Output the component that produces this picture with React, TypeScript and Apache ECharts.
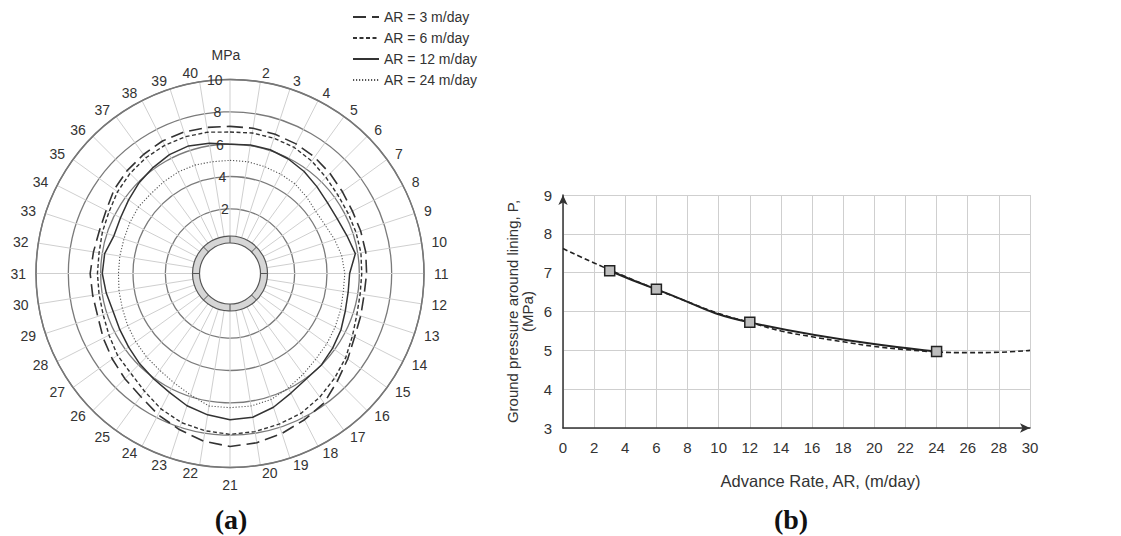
import React, { useEffect, useRef } from 'react';
import * as echarts from 'echarts';

// ---- Panel (a): polar plot data ----
const spokeLabels = ['1','2','3','4','5','6','7','8','9','10','11','12','13','14','15','16','17','18','19','20',
  '21','22','23','24','25','26','27','28','29','30','31','32','33','34','35','36','37','38','39','40'];
const radialTicks = ['2', '4', '6', '8', '10'];
const seriesNames = ['AR = 3 m/day', 'AR = 6 m/day', 'AR = 12 m/day', 'AR = 24 m/day'];

const ar3 = [7.1, 7.1, 7.05, 7.0, 6.9, 6.75, 6.6, 6.5, 6.5, 6.5, 6.45, 6.4, 6.5, 6.65, 7.0, 7.4, 7.9, 8.15, 8.4, 8.6,
  8.7, 8.5, 8.15, 7.8, 7.4, 7.2, 7.0, 6.8, 6.6, 6.6, 6.65, 6.55, 6.5, 6.6, 6.85, 7.0, 7.1, 7.2, 7.2, 7.15];
const ar6 = [6.75, 6.8, 6.8, 6.75, 6.6, 6.4, 6.25, 6.2, 6.2, 6.2, 6.15, 6.15, 6.25, 6.5, 6.85, 7.15, 7.45, 7.7, 7.8, 7.9,
  7.95, 7.85, 7.7, 7.4, 7.0, 6.7, 6.6, 6.4, 6.25, 6.2, 6.2, 6.2, 6.3, 6.4, 6.6, 6.75, 6.85, 6.9, 6.9, 6.85];
const ar12 = [6.0, 6.05, 6.05, 5.95, 5.8, 5.6, 5.45, 5.45, 5.6, 5.85, 5.4, 5.4, 5.5, 5.7, 5.85, 6.0, 6.05, 6.3, 6.7, 7.0,
  7.05, 6.85, 6.6, 6.25, 6.05, 5.9, 5.75, 5.65, 5.6, 5.75, 5.9, 5.85, 5.55, 5.6, 5.75, 5.95, 6.1, 6.25, 6.3, 6.15];
const ar24 = [5.0, 5.0, 4.95, 4.9, 4.85, 4.7, 4.55, 4.6, 4.8, 5.0, 5.1, 5.1, 5.2, 5.3, 5.4, 5.5, 5.7, 5.95, 6.2, 6.3,
  6.3, 6.3, 5.9, 5.6, 5.4, 5.3, 5.2, 5.1, 5.0, 4.95, 4.9, 4.9, 4.9, 4.95, 5.0, 4.95, 5.0, 5.05, 5.05, 5.0];

// ---- Panel (b): advance rate vs pressure ----
const rates = [3, 6, 12, 24];
const pressures = [7.05, 6.57, 5.72, 4.97];
const fitRates = [0, 2, 4, 6, 8, 10, 12, 14, 16, 18, 20, 22, 24, 26, 28, 30];
const fitPressures = [7.62, 7.25, 6.9, 6.57, 6.25, 5.95, 5.72, 5.5, 5.35, 5.22, 5.1, 5.02, 4.96, 4.94, 4.95, 5.0];

const FONT = '"Liberation Sans", Arial, sans-serif';
const SERIF = '"Liberation Serif", "Times New Roman", serif';
const CX = 230, CY = 273.5, R = 194;
const RING_IN = 30.5, RING_OUT = 37.5;
const LABEL_MARGIN = -14, DIGIT_W = 7.8, LABEL_H = 14;

function loop(vals: number[]) {
  const pts = vals.map((v, i) => [v, i]);
  pts.push([vals[0], 0]);
  return pts;
}

// Label placement: each spoke label sits with its box just outside the circle, as in the reference.
const labelRich: Record<string, any> = {};
const labelFormatted: Record<string, string> = {};
function spokeCategory(label: string, i: number) {
  if (label === '1') { labelFormatted[label] = ''; return { value: label }; }
  const th = (i * 360 / spokeLabels.length) * Math.PI / 180;
  const s = Math.sin(th), c = Math.cos(th);
  const a = R + LABEL_MARGIN;
  const ax = a * s, ay = -a * c;
  const w = label.length * DIGIT_W, h = LABEL_H;
  const alignH = Math.abs(ax) / R < 0.3 ? 'center' : (ax > 0 ? 'left' : 'right');
  const alignV = Math.abs(ay) / R < 0.3 ? 'middle' : (ay > 0 ? 'top' : 'bottom');
  const tx = Math.abs(s) < 0.01 ? 0 : 204 * s + Math.sign(s) * w / 2;
  const ty = label === '21' ? 211 : (c > 0 ? -202.5 * c : -201.7 * c);
  const cxOff = alignH === 'center' ? 0 : alignH === 'left' ? w / 2 : -w / 2;
  const cyOff = alignV === 'middle' ? 0 : alignV === 'top' ? h / 2 : -h / 2;
  const dx = tx - (ax + cxOff), dy = ty - (ay + cyOff);
  let pT = 0, pR = 0, pB = 0, pL = 0;
  if (alignH === 'center') { if (dx > 0) pL = 2 * dx; else pR = -2 * dx; }
  else if (alignH === 'left') pL = Math.max(0, dx);
  else pR = Math.max(0, -dx);
  labelFormatted[label] = label;
  if (alignV === 'middle') {
    if (Math.abs(dy) > 0.8) {
      const key = 'g' + label;
      labelRich[key] = { fontSize: 2, lineHeight: 2 * Math.abs(dy) };
      labelFormatted[label] = dy > 0 ? `{${key}| }\n${label}` : `${label}\n{${key}| }`;
    }
  } else if (alignV === 'top') pT = Math.max(0, dy);
  else pB = Math.max(0, -dy);
  return { value: label, textStyle: { padding: [pT, pR, pB, pL], rich: labelRich } };
}
const angleCategories = spokeLabels.map(spokeCategory);

export default function App() {
  const ref = useRef<HTMLDivElement>(null);
  useEffect(() => {
    if (!ref.current) return;
    const chart = echarts.init(ref.current, undefined, { renderer: 'svg' });
    const lineStyles = [
      { type: [13, 6], width: 1.6, color: '#333' },
      { type: [4, 2.5], width: 1.4, color: '#333' },
      { type: 'solid', width: 1.5, color: '#333' },
      { type: [1.2, 1.8], width: 1.1, color: '#555' },
    ];
    const polarData = [ar3, ar6, ar12, ar24];
    const dividers: any[] = [];
    for (let k = 0; k < 8; k++) {
      const a = (k * 45 * Math.PI) / 180;
      dividers.push({
        type: 'line', z: 101,
        shape: {
          x1: CX + RING_IN * Math.sin(a), y1: CY - RING_IN * Math.cos(a),
          x2: CX + RING_OUT * Math.sin(a), y2: CY - RING_OUT * Math.cos(a),
        },
        style: { stroke: '#555', lineWidth: 1 },
      });
    }
    chart.setOption({
      animation: false,
      backgroundColor: '#fff',
      textStyle: { fontFamily: FONT },
      legend: {
        orient: 'vertical', left: 347, top: 5,
        itemWidth: 26, itemHeight: 14, itemGap: 7,
        data: seriesNames,
        itemStyle: { color: 'rgba(0,0,0,0)', borderWidth: 0, opacity: 0 },
        textStyle: { fontSize: 14, color: '#333', fontFamily: FONT, lineHeight: 14 },
      },
      polar: { center: [CX, CY], radius: R },
      angleAxis: {
        type: 'category', data: angleCategories, startAngle: 94.5, clockwise: true, boundaryGap: true,
        axisLine: { show: true, lineStyle: { color: '#777', width: 1.5 } },
        axisTick: { show: false, alignWithLabel: true },
        axisLabel: {
          interval: 0, margin: LABEL_MARGIN, fontSize: 14, lineHeight: LABEL_H, color: '#333', fontFamily: FONT,
          formatter: (v: string) => labelFormatted[v] ?? v,
          rich: labelRich,
        },
        splitLine: { show: true, interval: 0, lineStyle: { color: '#cfcfcf', width: 1 } },
      },
      radiusAxis: {
        type: 'value', min: -2, max: 10, interval: 2,
        axisLine: { show: false }, axisTick: { show: false },
        axisLabel: {
          margin: 0, align: 'center', verticalAlign: 'middle', fontSize: 14, color: '#333', fontFamily: FONT,
          formatter: (v: number) => (radialTicks.indexOf(String(v)) >= 0 ? String(v) : ''),
        },
        splitLine: { show: true, lineStyle: { color: '#7a7a7a', width: 1.3 } },
      },
      grid: { left: 563, top: 195, width: 467, height: 233 },
      xAxis: {
        type: 'value', min: 0, max: 30, interval: 2,
        name: 'Advance Rate, AR, (m/day)', nameLocation: 'middle', nameGap: 44,
        nameTextStyle: { fontSize: 16.5, color: '#333', fontFamily: FONT, padding: [0, 0, 0, 48] },
        axisLine: { show: true, onZero: false, symbol: ['none', 'arrow'], symbolSize: [7, 10], lineStyle: { color: '#333', width: 1.5 } },
        axisTick: { show: false },
        axisLabel: { fontSize: 15, color: '#333', margin: 12, fontFamily: FONT, showMaxLabel: true },
        splitLine: { show: true, lineStyle: { color: '#cfcfcf', width: 1 } },
      },
      yAxis: {
        type: 'value', min: 3, max: 9, interval: 1,
        name: 'Ground pressure around lining, P,\n(MPa)', nameLocation: 'middle', nameGap: 28, nameRotate: 90,
        nameTextStyle: { fontSize: 15, color: '#333', fontFamily: FONT, lineHeight: 15 },
        axisLine: { show: true, onZero: false, symbol: ['none', 'arrow'], symbolSize: [7, 10], lineStyle: { color: '#333', width: 1.5 } },
        axisTick: { show: false },
        axisLabel: { fontSize: 15, color: '#333', margin: 11, fontFamily: FONT },
        splitLine: { show: true, lineStyle: { color: '#cfcfcf', width: 1 } },
      },
      series: [
        ...polarData.map((vals, i) => ({
          name: seriesNames[i], type: 'line', coordinateSystem: 'polar',
          data: loop(vals), symbol: 'none', showSymbol: false, smooth: false,
          lineStyle: lineStyles[i], itemStyle: { color: '#333' }, z: 5,
        })),
        {
          name: 'fit', type: 'line', xAxisIndex: 0, yAxisIndex: 0,
          data: fitRates.map((x, i) => [x, fitPressures[i]]),
          smooth: true, symbol: 'none', showSymbol: false,
          lineStyle: { type: [5, 3], width: 1.6, color: '#222' }, z: 3,
        },
        {
          name: 'data', type: 'line', xAxisIndex: 0, yAxisIndex: 0,
          data: rates.map((x, i) => [x, pressures[i]]),
          smooth: true, symbol: 'rect', symbolSize: 10,
          lineStyle: { width: 2, color: '#222' },
          itemStyle: { color: '#bdbdbd', borderColor: '#222', borderWidth: 1.5 }, z: 4,
        },
      ],
      graphic: [
        { type: 'circle', z: 100, shape: { cx: CX, cy: CY, r: RING_IN }, style: { fill: '#fff', stroke: 'none' } },
        { type: 'ring', z: 100, shape: { cx: CX, cy: CY, r: RING_OUT, r0: RING_IN }, style: { fill: '#d6d6d6', stroke: '#555', lineWidth: 1.2 } },
        ...dividers,
        { type: 'text', z: 100, x: 226, y: 55, style: { text: 'MPa', fontSize: 14, fill: '#333', fontFamily: FONT, align: 'center', verticalAlign: 'middle' } },
        { type: 'text', z: 100, x: 231, y: 519, style: { text: '(a)', fontSize: 28, fontWeight: 'bold', fill: '#111', fontFamily: SERIF, align: 'center', verticalAlign: 'middle' } },
        { type: 'text', z: 100, x: 791, y: 519, style: { text: '(b)', fontSize: 28, fontWeight: 'bold', fill: '#111', fontFamily: SERIF, align: 'center', verticalAlign: 'middle' } },
      ],
    });
    return () => chart.dispose();
  }, []);
  return <div ref={ref} style={{ position: 'fixed', left: 0, top: 0, width: 1121, height: 536, background: '#fff' }} />;
}
